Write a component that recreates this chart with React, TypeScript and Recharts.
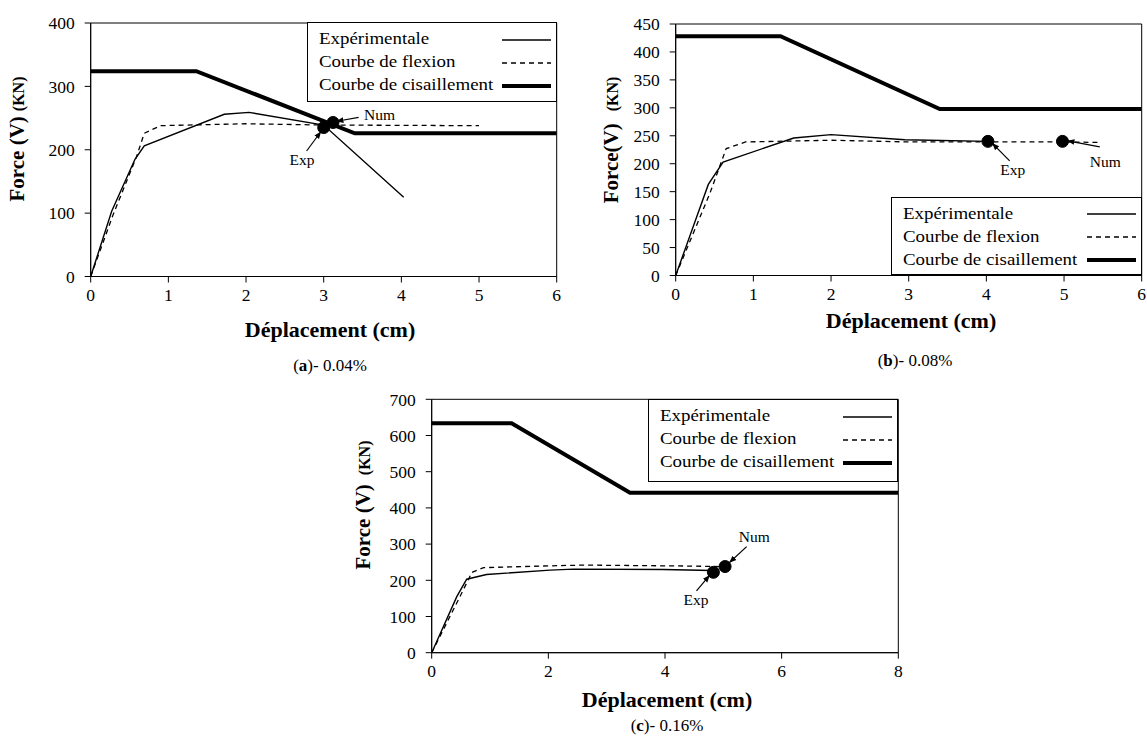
import {
  Legend,
  Line,
  LineChart,
  ReferenceArea,
  ReferenceDot,
  ReferenceLine,
  XAxis,
  YAxis,
} from "recharts";

const FONT = "'Liberation Serif', 'Times New Roman', serif";

const SERIES_NAMES = ["Expérimentale", "Courbe de flexion", "Courbe de cisaillement"];

// (a) 0.04%
const A_EXP_X = [0, 0.27, 0.57, 0.69, 1.72, 2.04, 3.0, 4.03];
const A_EXP_Y = [0, 103, 185, 206, 256, 259, 239, 125];
const A_FLEX_X = [0, 0.29, 0.59, 0.69, 0.9, 2, 3, 5];
const A_FLEX_Y = [0, 98, 189, 226, 238, 241, 239, 238];
const A_SHEAR_X = [0, 1.36, 3.4, 6];
const A_SHEAR_Y = [324, 324, 226, 226];
const A_X_TICKS = [0, 1, 2, 3, 4, 5, 6];
const A_Y_TICKS = [0, 100, 200, 300, 400];

// (b) 0.08%
const B_EXP_X = [0, 0.42, 0.61, 1.52, 2.0, 2.95, 4.02];
const B_EXP_Y = [0, 163, 203, 246, 252, 243, 240];
const B_FLEX_X = [0, 0.44, 0.65, 0.9, 2, 3, 4, 5, 5.48];
const B_FLEX_Y = [0, 147, 227, 239, 242, 239, 239, 239, 238];
const B_SHEAR_X = [0, 1.35, 3.4, 6];
const B_SHEAR_Y = [428, 428, 298, 298];
const B_X_TICKS = [0, 1, 2, 3, 4, 5, 6];
const B_Y_TICKS = [0, 50, 100, 150, 200, 250, 300, 350, 400, 450];

// (c) 0.16%
const C_EXP_X = [0, 0.43, 0.6, 0.94, 2.03, 2.43, 3.97, 4.8];
const C_EXP_Y = [0, 155, 203, 216, 228, 231, 230, 227];
const C_FLEX_X = [0, 0.5, 0.69, 0.89, 2.03, 2.6, 4.31, 4.94];
const C_FLEX_Y = [0, 160, 222, 235, 240, 242, 239.5, 238];
const C_SHEAR_X = [0, 1.37, 3.4, 8];
const C_SHEAR_Y = [634, 634, 442, 442];
const C_X_TICKS = [0, 2, 4, 6, 8];
const C_Y_TICKS = [0, 100, 200, 300, 400, 500, 600, 700];

// markers: [Exp, Num]
const A_DOTS = [[3.0, 235], [3.12, 243]];
const B_DOTS = [[4.02, 240], [4.98, 240]];
const C_DOTS = [[4.83, 222], [5.03, 238]];

// notes: label, label position, arrow start, arrow end
const A_NOTES = [
  { text: "Num", at: [3.72, 256], from: [3.45, 251], to: [3.17, 245] },
  { text: "Exp", at: [2.72, 184], from: [2.78, 198], to: [2.96, 228] },
];
const B_NOTES = [
  { text: "Exp", at: [4.34, 189], from: [4.3, 205], to: [4.08, 236] },
  { text: "Num", at: [5.53, 204], from: [5.46, 230], to: [5.05, 241] },
];
const C_NOTES = [
  { text: "Num", at: [5.53, 320], from: [5.4, 293], to: [5.11, 250] },
  { text: "Exp", at: [4.53, 146], from: [4.54, 171], to: [4.76, 213] },
];

const SERIES_STYLE: Record<string, { w: number; dash?: string }> = {
  "Expérimentale": { w: 1.4 },
  "Courbe de flexion": { w: 1.3, dash: "5 4" },
  "Courbe de cisaillement": { w: 4 },
};

const zip = (xs: number[], ys: number[]) => xs.map((x, i) => ({ x, y: ys[i] }));

function BoxLegend() {
  return (
    <div
      style={{
        border: "1px solid #000",
        background: "#fff",
        boxSizing: "border-box",
        width: "100%",
        height: "100%",
        padding: "4px 5px 0 11px",
        fontFamily: FONT,
        fontSize: 17.5,
        color: "#000",
      }}
    >
      {SERIES_NAMES.map((name) => {
        const s = SERIES_STYLE[name];
        return (
          <div key={name} style={{ display: "flex", alignItems: "center", height: 23, lineHeight: "23px" }}>
            <span style={{ flex: 1, whiteSpace: "nowrap" }}>
              <span style={{ display: "inline-block", transform: "scaleX(1.08)", transformOrigin: "left center" }}>
                {name}
              </span>
            </span>
            <svg width={49} height={8} style={{ marginTop: 2 }}>
              <line x1={0} y1={4} x2={49} y2={4} stroke="#000" strokeWidth={s.w} strokeDasharray={s.dash} />
            </svg>
          </div>
        );
      })}
    </div>
  );
}

type PanelProps = {
  left: number;
  top: number;
  width: number;
  height: number;
  margin: { top: number; right: number };
  yWidth: number;
  xHeight: number;
  xMax: number;
  yMax: number;
  xTicks: number[];
  yTicks: number[];
  exp: { x: number; y: number }[];
  flex: { x: number; y: number }[];
  shear: { x: number; y: number }[];
  dots: number[][];
  notes: { text: string; at: number[]; from: number[]; to: number[] }[];
  legendBox: { left: number; top: number; width: number; height: number };
};

function Panel(p: PanelProps) {
  const tick = { fill: "#000", fontSize: 17.5, fontFamily: FONT };
  return (
    <div style={{ position: "absolute", left: p.left, top: p.top }}>
      <LineChart
        width={p.width}
        height={p.height}
        margin={{ top: p.margin.top, right: p.margin.right, bottom: 0, left: 0 }}
        style={{ fontFamily: FONT }}
      >
        <XAxis
          dataKey="x"
          type="number"
          domain={[0, p.xMax]}
          ticks={p.xTicks}
          height={p.xHeight}
          tick={tick}
          tickSize={6}
          tickMargin={6}
          stroke="#000"
          allowDataOverflow
        />
        <YAxis
          type="number"
          domain={[0, p.yMax]}
          ticks={p.yTicks}
          width={p.yWidth}
          tick={tick}
          tickSize={6}
          tickMargin={10}
          stroke="#000"
          allowDataOverflow
        />
        <ReferenceArea x1={0} x2={p.xMax} y1={0} y2={p.yMax} fill="none" stroke="#000" strokeWidth={1} />
        <Line
          data={p.shear}
          dataKey="y"
          name={SERIES_NAMES[2]}
          stroke="#000"
          strokeWidth={4}
          dot={false}
          activeDot={false}
          isAnimationActive={false}
        />
        <Line
          data={p.flex}
          dataKey="y"
          name={SERIES_NAMES[1]}
          stroke="#000"
          strokeWidth={1.3}
          strokeDasharray="5 4"
          dot={false}
          activeDot={false}
          isAnimationActive={false}
        />
        <Line
          data={p.exp}
          dataKey="y"
          name={SERIES_NAMES[0]}
          stroke="#000"
          strokeWidth={1.4}
          dot={false}
          activeDot={false}
          isAnimationActive={false}
        />
        {p.dots.map(([x, y], i) => (
          <ReferenceDot key={"d" + i} x={x} y={y} r={6} fill="#000" stroke="#000" />
        ))}
        {p.notes.map((n, i) => (
          <ReferenceLine
            key={"a" + i}
            segment={[
              { x: n.from[0], y: n.from[1] },
              { x: n.to[0], y: n.to[1] },
            ]}
            stroke="#000"
            strokeWidth={1.2}
            markerEnd="url(#arrowHead)"
          />
        ))}
        {p.notes.map((n, i) => (
          <ReferenceDot
            key={"n" + i}
            x={n.at[0]}
            y={n.at[1]}
            r={0.01}
            fill="none"
            stroke="none"
            label={{ value: n.text, position: "center", fill: "#000", fontSize: 15.5, fontFamily: FONT }}
          />
        ))}
        <Legend
          layout="vertical"
          align="center"
          verticalAlign="middle"
          content={() => <BoxLegend />}
          wrapperStyle={{ ...p.legendBox, position: "absolute" }}
        />
      </LineChart>
    </div>
  );
}

function YTitle({ x, y, main, gap }: { x: number; y: number; main: string; gap: number }) {
  return (
    <text
      x={x}
      y={y}
      transform={`rotate(-90, ${x}, ${y})`}
      textAnchor="middle"
      dy="0.35em"
      fontFamily={FONT}
      fontWeight="bold"
      fontSize={21}
    >
      {main}
      <tspan dx={gap} fontSize={16}>(KN)</tspan>
    </text>
  );
}

function Caption({ x, y, letter, rest }: { x: number; y: number; letter: string; rest: string }) {
  return (
    <text x={x} y={y} textAnchor="middle" fontFamily={FONT} fontSize={17}>
      (<tspan fontWeight="bold">{letter}</tspan>){rest}
    </text>
  );
}

export default function App() {
  const xTitle = { fontFamily: FONT, fontWeight: "bold" as const, fontSize: 22, textAnchor: "middle" as const };
  return (
    <div
      style={{
        position: "absolute",
        left: 0,
        top: 0,
        width: 1147,
        height: 736,
        background: "#fff",
        fontFamily: FONT,
      }}
    >
      <Panel
        left={0}
        top={0}
        width={580}
        height={320}
        margin={{ top: 23, right: 23.3 }}
        yWidth={90.7}
        xHeight={43.5}
        xMax={6}
        yMax={400}
        xTicks={A_X_TICKS}
        yTicks={A_Y_TICKS}
        exp={zip(A_EXP_X, A_EXP_Y)}
        flex={zip(A_FLEX_X, A_FLEX_Y)}
        shear={zip(A_SHEAR_X, A_SHEAR_Y)}
        dots={A_DOTS}
        notes={A_NOTES}
        legendBox={{ left: 306.7, top: 22.3, width: 250, height: 80 }}
      />
      <Panel
        left={590}
        top={0}
        width={557}
        height={320}
        margin={{ top: 24, right: 5.3 }}
        yWidth={85.7}
        xHeight={44.5}
        xMax={6}
        yMax={450}
        xTicks={B_X_TICKS}
        yTicks={B_Y_TICKS}
        exp={zip(B_EXP_X, B_EXP_Y)}
        flex={zip(B_FLEX_X, B_FLEX_Y)}
        shear={zip(B_SHEAR_X, B_SHEAR_Y)}
        dots={B_DOTS}
        notes={B_NOTES}
        legendBox={{ left: 301, top: 196.7, width: 250.7, height: 78 }}
      />
      <Panel
        left={340}
        top={380}
        width={570}
        height={320}
        margin={{ top: 19.3, right: 11.7 }}
        yWidth={91.7}
        xHeight={47.3}
        xMax={8}
        yMax={700}
        xTicks={C_X_TICKS}
        yTicks={C_Y_TICKS}
        exp={zip(C_EXP_X, C_EXP_Y)}
        flex={zip(C_FLEX_X, C_FLEX_Y)}
        shear={zip(C_SHEAR_X, C_SHEAR_Y)}
        dots={C_DOTS}
        notes={C_NOTES}
        legendBox={{ left: 308.3, top: 19.3, width: 250, height: 82.4 }}
      />
      <svg
        width={1147}
        height={736}
        style={{ position: "absolute", left: 0, top: 0, pointerEvents: "none" }}
      >
        <defs>
          <marker id="arrowHead" viewBox="0 0 10 10" refX="9" refY="5" markerWidth="6" markerHeight="6" orient="auto">
            <path d="M0,1 L10,5 L0,9 z" fill="#000" />
          </marker>
        </defs>
        <YTitle x={17} y={139} main="Force (V)" gap={5} />
        <YTitle x={611} y={140} main="Force(V)" gap={12} />
        <YTitle x={363} y={505} main="Force (V)" gap={9} />
        <text x={330} y={337} {...xTitle}>Déplacement (cm)</text>
        <text x={911} y={328} {...xTitle}>Déplacement (cm)</text>
        <text x={667} y={707} {...xTitle}>Déplacement (cm)</text>
        <Caption x={330} y={371} letter="a" rest="- 0.04%" />
        <Caption x={915} y={366} letter="b" rest="- 0.08%" />
        <Caption x={667} y={731} letter="c" rest="- 0.16%" />
      </svg>
    </div>
  );
}
